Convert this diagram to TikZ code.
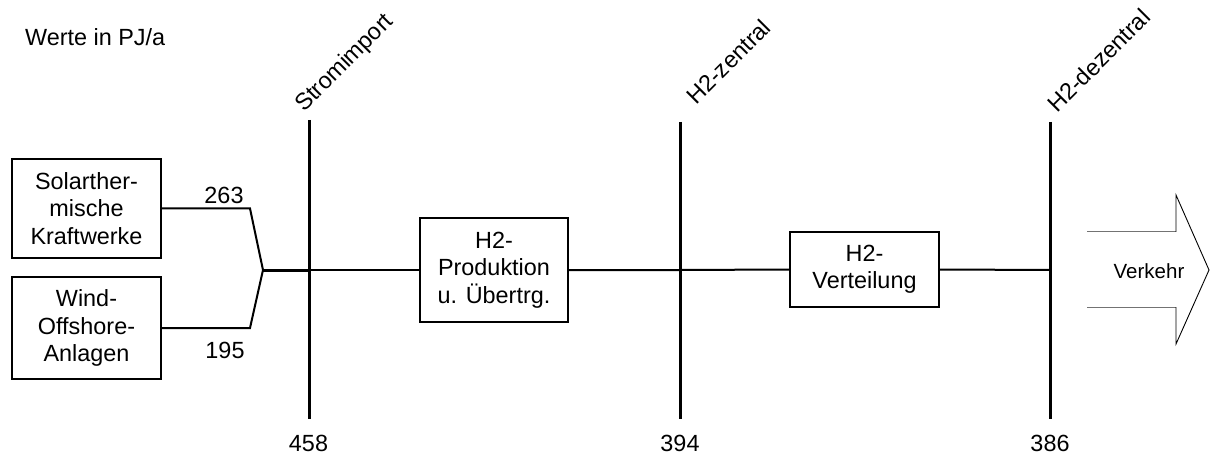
\documentclass[tikz,border=0pt]{standalone}
\usepackage{fontspec}
\setmainfont{Liberation Sans}
\begin{document}
\begin{tikzpicture}[x=1pt,y=-1pt,
  txt/.style={font=\fontsize{23.4}{27.5}\selectfont, inner sep=0pt},
  box/.style={txt, draw, line width=2pt, align=center},
  bus/.style={line width=3pt},
  conn/.style={line width=2pt},
  trunk/.style={line width=3pt},
  buslabel/.style={txt, rotate=45, anchor=base west},
  shaftline/.style={line width=1pt, black!55},
  headline/.style={line width=0.9pt, black}]
\path[use as bounding box] (0,0) rectangle (1210,457);

% unit label
\node[txt, anchor=base west] (unit) at (25,46) {Werte in PJ/a};

% source boxes
\node[box, minimum width=149pt, minimum height=99pt] (solar) at (86.5,208.5) {Solarther-\\mische\\Kraftwerke};
\node[box, minimum width=149pt, minimum height=102pt] (wind) at (86.5,328) {Wind-\\Offshore-\\Anlagen};

% process boxes
\node[box, minimum width=148pt, minimum height=104pt] (prod) at (494,270) {H2-\\Produktion\\u. Übertrg.};
\node[box, minimum width=149pt, minimum height=75pt] (vert) at (864.5,269.5) {H2-\\Verteilung};

% balance buses
\coordinate (b1t) at (309,120); \coordinate (b1b) at (309,419); \coordinate (b1m) at (309,270);
\coordinate (b2t) at (680,122); \coordinate (b2b) at (680,419); \coordinate (b2m) at (680,270);
\coordinate (b3t) at (1050,122); \coordinate (b3b) at (1050,419); \coordinate (b3m) at (1050,270);
\draw[bus] (b1t) -- (b1b);
\draw[bus] (b2t) -- (b2b);
\draw[bus] (b3t) -- (b3b);

% bus names
\node[buslabel] (n1) at (304,113) {Stromimport};
\node[buslabel] (n2) at (696,106) {H2-zentral};
\node[buslabel] (n3) at (1057,114) {H2-dezentral};

% bus values
\node[txt] (v1) at (308.5,443) {458};
\node[txt] (v2) at (680,443) {394};
\node[txt] (v3) at (1050,443) {386};

% merging of the two sources
\coordinate (j) at (263,270);
\coordinate (k1) at (250,208.5);
\coordinate (k2) at (250,328);
\draw[conn] (solar.east) -- (k1) -- (j);
\draw[conn] (wind.east) -- (k2) -- (j);
\draw[trunk] (j) -- (b1m);
\node[txt] (f1) at (224,195) {263};
\node[txt] (f2) at (225,350) {195};

% chain
\draw[conn] (b1m) -- (prod.west);
\draw[conn] (prod.east) -- (b2m) -- (vert.west);
\draw[conn] (vert.east) -- (b3m);

% outlet arrow
\coordinate (s1) at (1087,232);
\coordinate (s2) at (1176,232);
\coordinate (h1) at (1176,195);
\coordinate (tip) at (1209,270);
\coordinate (h2) at (1176,344);
\coordinate (s3) at (1176,307);
\coordinate (s4) at (1087,307);
\draw[shaftline] (s1) -- (s2);
\draw[shaftline] (s4) -- (s3);
\draw[headline, line join=miter] (s2) -- (h1) -- (tip) -- (h2) -- (s3);
\node[txt, font=\fontsize{20.5}{24}\selectfont] (out) at (1149,271) {Verkehr};
\end{tikzpicture}
\end{document}
